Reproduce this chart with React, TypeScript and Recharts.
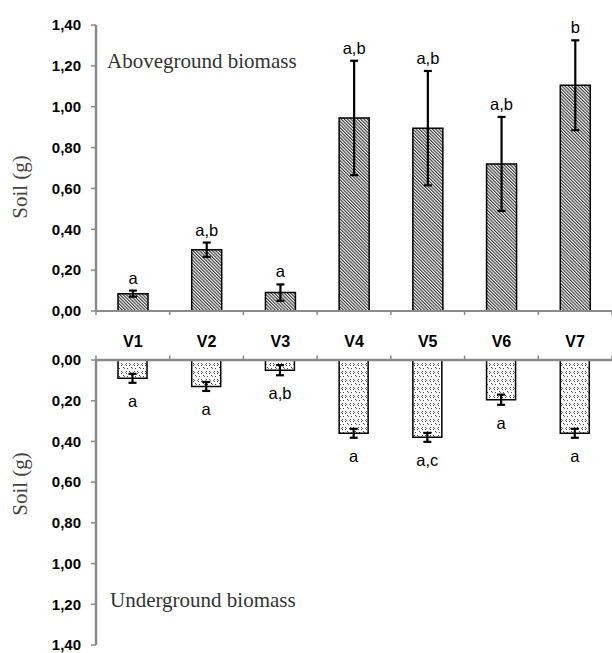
import React from 'react'
import { BarChart, Bar, XAxis, YAxis, ErrorBar, LabelList } from 'recharts'

const CATEGORIES = ['V1', 'V2', 'V3', 'V4', 'V5', 'V6', 'V7']

// aboveground biomass (g)
const TOP_MEANS = [0.085, 0.3, 0.09, 0.945, 0.895, 0.72, 1.105]
const TOP_ERR = [0.015, 0.035, 0.04, 0.28, 0.28, 0.23, 0.22]
const TOP_LETTERS = ['a', 'a,b', 'a', 'a,b', 'a,b', 'a,b', 'b']

// underground biomass (g)
const BOTTOM_MEANS = [0.09, 0.13, 0.05, 0.36, 0.38, 0.195, 0.36]
const BOTTOM_ERR = [0.022, 0.022, 0.025, 0.022, 0.022, 0.025, 0.022]
const BOTTOM_LETTERS = ['a', 'a', 'a,b', 'a', 'a,c', 'a', 'a']

const Y_TICKS = [0, 0.2, 0.4, 0.6, 0.8, 1.0, 1.2, 1.4]

const topData = CATEGORIES.map((name, i) => ({
  name, value: TOP_MEANS[i], err: TOP_ERR[i], letter: TOP_LETTERS[i],
}))
const bottomData = CATEGORIES.map((name, i) => ({
  name, value: BOTTOM_MEANS[i], err: BOTTOM_ERR[i], letter: BOTTOM_LETTERS[i],
}))

const AXIS = '#8a8a8a'
const SANS = 'Arial, "Liberation Sans", sans-serif'
const SERIF = '"Times New Roman", "Liberation Serif", serif'

const fmt = (v: number) => v.toFixed(2).replace('.', ',')

function bandHalf(props: any) {
  const n = props.visibleTicksCount || CATEGORIES.length
  const w = props.width || 516
  return w / n / 2
}

// top panel x axis: only boundary tick marks pointing down
const TopTick = (props: any) => {
  const { x, y, index, visibleTicksCount } = props
  const h = bandHalf(props)
  return (
    <g>
      <line x1={x - h} x2={x - h} y1={y} y2={y + 4} stroke={AXIS} strokeWidth={1.5} />
      {index === visibleTicksCount - 1 && (
        <line x1={x + h} x2={x + h} y1={y} y2={y + 4} stroke={AXIS} strokeWidth={1.5} />
      )}
    </g>
  )
}

// bottom panel x axis (on top): category names + boundary tick marks pointing up
const BottomTick = (props: any) => {
  const { x, y, index, visibleTicksCount, payload } = props
  const h = bandHalf(props)
  return (
    <g>
      <line x1={x - h} x2={x - h} y1={y} y2={y - 4.5} stroke={AXIS} strokeWidth={1.5} />
      {index === visibleTicksCount - 1 && (
        <line x1={x + h} x2={x + h} y1={y} y2={y - 4.5} stroke={AXIS} strokeWidth={1.5} />
      )}
      <text x={x} y={y - 13} textAnchor="middle" fontFamily={SANS} fontWeight="bold" fontSize={16} fill="#000">
        {payload.value}
      </text>
    </g>
  )
}

function letterLabel(means: number[], errs: number[], letters: string[], above: boolean) {
  return (props: any) => {
    const vb = props.viewBox ?? props
    const x = Number(vb.x ?? props.x)
    const y = Number(vb.y ?? props.y)
    const width = Number(vb.width ?? props.width)
    const height = Number(vb.height ?? props.height)
    const i = props.index ?? 0
    const px = Math.abs(height) / means[i]
    const top = Math.min(y, y + height)
    const bottom = Math.max(y, y + height)
    const ty = above ? top - errs[i] * px - 13 : bottom + errs[i] * px + 18
    return (
      <text x={x + width / 2} y={ty} textAnchor="middle" dominantBaseline="central"
            fontFamily={SANS} fontSize={16.5} fill="#000">
        {letters[i]}
      </text>
    )
  }
}

const yTick = { fontSize: 15, fontWeight: 'bold', fill: '#000', fontFamily: SANS }

export default function App() {
  return (
    <div style={{ position: 'absolute', left: 0, top: 0, width: 612, height: 653, background: '#fff' }}>
      <svg width={0} height={0} style={{ position: 'absolute' }}>
        <defs>
          <pattern id="hatchTop" patternUnits="userSpaceOnUse" width={2.3} height={2.3} patternTransform="rotate(-45)">
            <rect width={2.3} height={2.3} fill="#fff" />
            <line x1={0.6} y1={0} x2={0.6} y2={2.3} stroke="#222" strokeWidth={1.05} />
          </pattern>
          <pattern id="dotsBottom" patternUnits="userSpaceOnUse" width={8} height={8}>
            <rect width={8} height={8} fill="#fff" />
            <rect x={1} y={1} width={1} height={1} fill="#444" />
            <rect x={2} y={2} width={1} height={1} fill="#777" />
            <rect x={1} y={3} width={1} height={1} fill="#444" />
            <rect x={6} y={1} width={1} height={1} fill="#444" />
            <rect x={5} y={2} width={1} height={1} fill="#777" />
            <rect x={6} y={3} width={1} height={1} fill="#444" />
            <rect x={3} y={5} width={1} height={1} fill="#444" />
            <rect x={4} y={6} width={1} height={1} fill="#777" />
            <rect x={7} y={6} width={1} height={1} fill="#444" />
          </pattern>
        </defs>
      </svg>

      <div style={{ position: 'absolute', left: 0, top: 0 }}>
        <BarChart width={612} height={330} data={topData} margin={{ top: 25, right: 0, left: 0, bottom: 0 }}>
          <XAxis dataKey="name" height={19} axisLine={{ stroke: AXIS, strokeWidth: 2 }}
                 tickLine={false} tickSize={0} tickMargin={0} tick={<TopTick />} interval={0} />
          <YAxis width={96} domain={[0, 1.4]} ticks={Y_TICKS} tickFormatter={fmt} interval={0}
                 axisLine={{ stroke: AXIS, strokeWidth: 2.5 }} tickLine={{ stroke: AXIS, strokeWidth: 1.5 }}
                 tickSize={5} tickMargin={10} tick={yTick} />
          <Bar dataKey="value" barSize={30} fill="url(#hatchTop)" stroke="#000" strokeWidth={1.5}
               isAnimationActive={false}>
            <ErrorBar dataKey="err" width={4} stroke="#000" strokeWidth={2.2} direction="y" />
            <LabelList dataKey="letter" content={letterLabel(TOP_MEANS, TOP_ERR, TOP_LETTERS, true)} />
          </Bar>
        </BarChart>
      </div>

      <div style={{ position: 'absolute', left: 0, top: 330 }}>
        <BarChart width={612} height={323} data={bottomData} margin={{ top: 0, right: 0, left: 0, bottom: 8 }}>
          <XAxis dataKey="name" orientation="top" height={30} axisLine={{ stroke: AXIS, strokeWidth: 2.5 }}
                 tickLine={false} tickSize={0} tickMargin={0} tick={<BottomTick />} interval={0} />
          <YAxis width={96} domain={[0, 1.4]} reversed ticks={Y_TICKS} tickFormatter={fmt} interval={0}
                 axisLine={{ stroke: AXIS, strokeWidth: 2.5 }} tickLine={{ stroke: AXIS, strokeWidth: 1.5 }}
                 tickSize={5} tickMargin={10} tick={yTick} />
          <Bar dataKey="value" barSize={29} fill="url(#dotsBottom)" stroke="#000" strokeWidth={1.5}
               isAnimationActive={false}>
            <ErrorBar dataKey="err" width={4} stroke="#000" strokeWidth={2.2} direction="y" />
            <LabelList dataKey="letter" content={letterLabel(BOTTOM_MEANS, BOTTOM_ERR, BOTTOM_LETTERS, false)} />
          </Bar>
        </BarChart>
      </div>

      <svg width={612} height={653} style={{ position: 'absolute', left: 0, top: 0, pointerEvents: 'none' }}>
        <text x={107} y={68} fontFamily={SERIF} fontSize={21} fill="#333">Aboveground biomass</text>
        <text x={110} y={607} fontFamily={SERIF} fontSize={21} fill="#333">Underground biomass</text>
        <text transform="translate(27,187) rotate(-90)" textAnchor="middle" fontFamily={SERIF} fontSize={21} fill="#444">
          Soil (g)
        </text>
        <text transform="translate(27,484) rotate(-90)" textAnchor="middle" fontFamily={SERIF} fontSize={21} fill="#444">
          Soil (g)
        </text>
      </svg>
    </div>
  )
}
